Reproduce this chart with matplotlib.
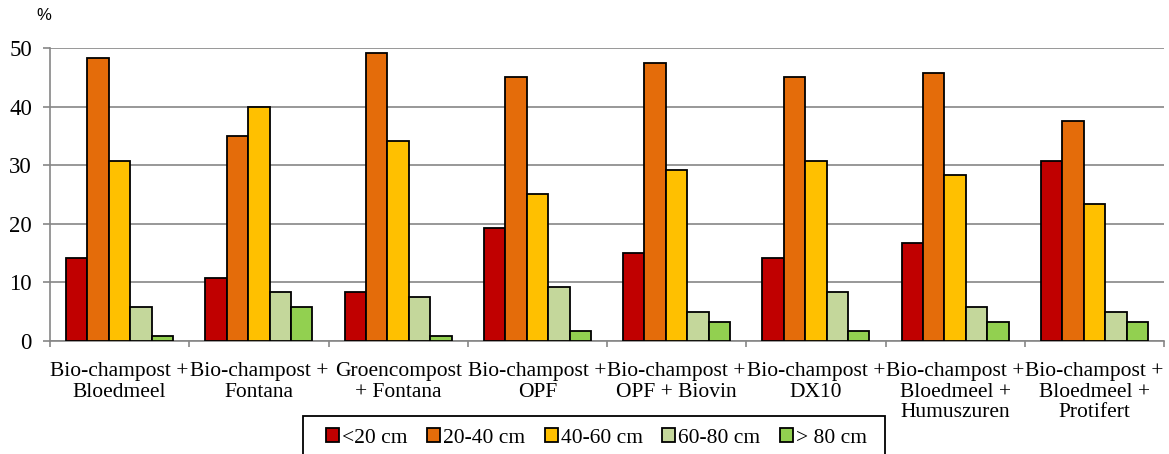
import numpy as np
import matplotlib
matplotlib.use("Agg")
import matplotlib.pyplot as plt
from matplotlib.patches import Rectangle

categories = [
    "Bio-champost +\nBloedmeel",
    "Bio-champost +\nFontana",
    "Groencompost\n+ Fontana",
    "Bio-champost +\nOPF",
    "Bio-champost +\nOPF + Biovin",
    "Bio-champost +\nDX10",
    "Bio-champost +\nBloedmeel +\nHumuszuren",
    "Bio-champost +\nBloedmeel +\nProtifert",
]
series_names = ["<20 cm", "20-40 cm", "40-60 cm", "60-80 cm", "> 80 cm"]
lt20 = [14.2, 10.8, 8.3, 19.2, 15.0, 14.2, 16.7, 30.8]
d20_40 = [48.3, 35.0, 49.2, 45.0, 47.5, 45.0, 45.8, 37.5]
d40_60 = [30.8, 40.0, 34.2, 25.0, 29.2, 30.8, 28.3, 23.3]
d60_80 = [5.8, 8.3, 7.5, 9.2, 5.0, 8.3, 5.8, 5.0]
gt80 = [0.8, 5.8, 0.8, 1.7, 3.3, 1.7, 3.3, 3.3]
yticks = [0, 10, 20, 30, 40, 50]

colors = ["#C00000", "#E46C0A", "#FFC000", "#C4D79B", "#92D050"]
series = [lt20, d20_40, d40_60, d60_80, gt80]

plt.rcParams["font.family"] = ["Liberation Serif", "DejaVu Serif"]

W, H = 1169, 454
fig = plt.figure(figsize=(W / 100, H / 100), dpi=100)
ax = fig.add_axes([50 / W, (H - 341) / H, (1164 - 50) / W, (341 - 48) / H])

n = len(series)
bw = 1 / 6.5
x = np.arange(len(categories))
for i, (vals, c, name) in enumerate(zip(series, colors, series_names)):
    offs = (i - (n - 1) / 2) * bw
    ax.bar(x + offs, vals, width=bw, color=c, edgecolor="black",
           linewidth=1.3, label=name, zorder=3)

ax.set_xlim(-0.5, len(categories) - 0.5)
ax.set_ylim(0, 50)
ax.set_yticks(yticks)
ax.set_yticklabels([str(t) for t in yticks], fontsize=16.5)
ax.yaxis.grid(True, color="#868686", linewidth=1.2, zorder=0)
ax.set_axisbelow(True)

# category labels centered, boundary tick marks between groups
ax.set_xticks(x)
ax.set_xticklabels(categories, fontsize=15.5, linespacing=1.12)
ax.tick_params(axis="x", length=0, pad=15)
ax.set_xticks(np.arange(-0.5, len(categories)), minor=True)
ax.tick_params(axis="x", which="minor", length=4, color="#868686", width=1.2)
ax.tick_params(axis="y", length=5, color="#868686", width=1.2, pad=8)

for s in ["top", "right"]:
    ax.spines[s].set_visible(False)
for s in ["left", "bottom"]:
    ax.spines[s].set_color("#868686")
    ax.spines[s].set_linewidth(1.2)

fig.text(44 / W, 1 - 15 / H, "%", fontsize=12, family="Liberation Sans",
         ha="center", va="center")

# legend entries without frame, boxed by a separate rectangle
leg = fig.legend(loc="center left", bbox_to_anchor=(326 / W, 1 - 438 / H),
                 borderaxespad=0, borderpad=0, ncol=5, fontsize=15.5,
                 frameon=False,
                 handlelength=0.6, handleheight=0.6, handletextpad=0.15,
                 columnspacing=0.9)
fig.patches.append(Rectangle((303 / W, -0.05), (885 - 303) / W,
                             (H - 416) / H + 0.05, transform=fig.transFigure,
                             fill=False, edgecolor="black", linewidth=1.3))

fig.savefig("out.png", dpi=100)
